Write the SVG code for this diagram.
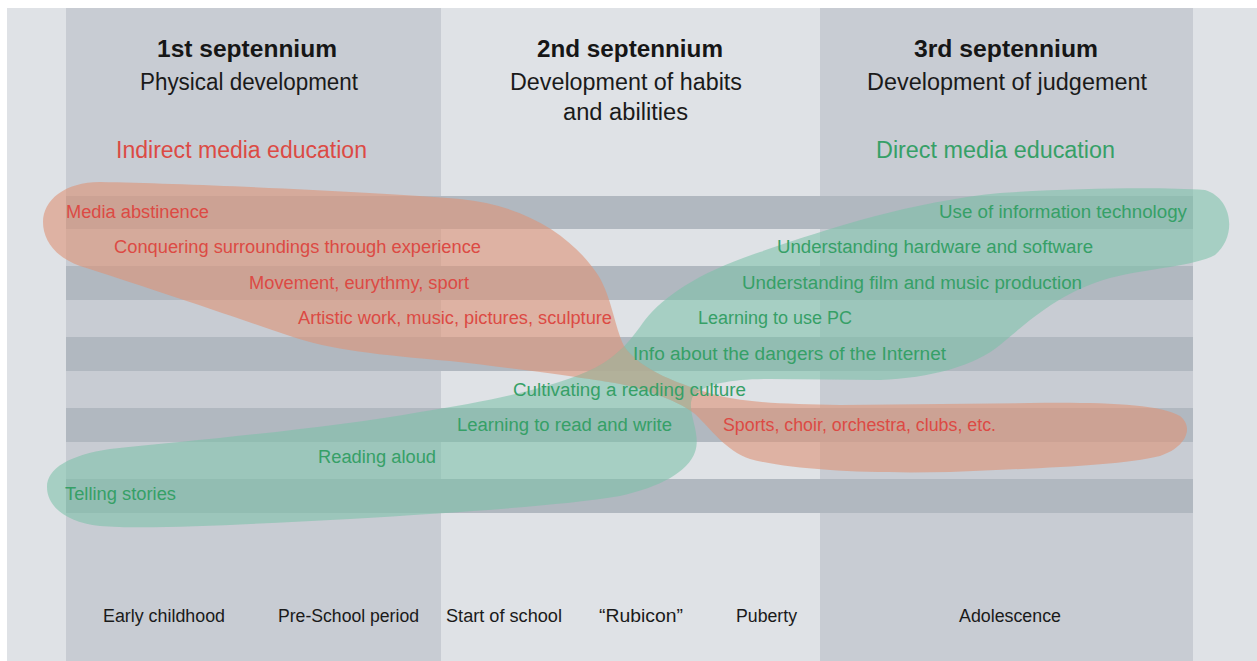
<svg xmlns="http://www.w3.org/2000/svg" width="1257" height="661" viewBox="0 0 1257 661">
  <style>
    .t { font-family: "Liberation Sans", Arial, sans-serif; }
    .head { font-size: 23.5px; font-weight: bold; fill: #161616; }
    .sub { font-size: 23px; fill: #1a1a1a; }
    .red { fill: #dc4a44; }
    .grn { fill: #36a067; }
    .row { font-size: 18.8px; }
    .age { font-size: 18.8px; fill: #1a1a1a; }
  </style>
  <defs>
    <path id="orangePath" d="M 43,222 C 43,200 65,182 100,182 C 200,184 380,192 460,199 C 530,206 575,240 598,275 C 612,298 614,325 624,346 C 640,370 680,385 720,396 C 750,403 790,404 840,405 L 1030,403 C 1100,402 1160,404 1180,416 C 1195,428 1185,448 1160,456 C 1120,466 1040,468 950,472 C 870,474 790,470 750,459 C 725,450 712,430 695,414 C 680,402 650,390 615,383 C 580,377 520,369 450,361 C 380,355 330,350 290,336 C 220,312 140,285 80,266 C 55,257 43,240 43,222 Z"/>
    <path id="greenPath" d="M 47,487 C 47,468 70,455 110,449 C 200,440 330,428 420,412 C 500,400 560,385 595,368 C 620,355 632,338 645,320 C 665,295 700,272 760,252 C 830,228 910,202 1000,193 C 1080,188 1160,187 1205,190 C 1232,198 1238,235 1215,255 C 1195,266 1150,268 1110,278 C 1060,292 1030,320 1000,345 C 975,366 930,378 880,380 L 770,379 C 735,379 705,383 693,396 C 685,410 702,432 695,452 C 688,472 660,487 620,496 C 560,506 460,512 350,519 C 250,524 150,530 100,526 C 65,522 47,506 47,487 Z"/>
    <clipPath id="orangeClip">
      <use href="#orangePath"/>
    </clipPath>
  </defs>

  <!-- page and column backgrounds -->
  <g id="background">
    <rect x="0" y="0" width="1257" height="661" fill="#ffffff"/>
    <rect x="7" y="8" width="1250" height="653" fill="#dfe2e6"/>
    <rect x="66" y="8" width="375" height="653" fill="#c8ccd3"/>
    <rect x="820" y="8" width="373" height="653" fill="#c8ccd3"/>
  </g>

  <!-- horizontal row bands -->
  <g id="bands" fill="#b1b8c0">
    <rect x="66" y="196" width="1127" height="33"/>
    <rect x="66" y="266" width="1127" height="34"/>
    <rect x="66" y="337" width="1127" height="34"/>
    <rect x="66" y="408" width="1127" height="34"/>
    <rect x="66" y="479" width="1127" height="34"/>
  </g>

  <!-- brush strokes: indirect (orange) and direct (green) media education -->
  <g id="strokes">
    <use id="indirect-stroke" href="#orangePath" fill="#de9276" fill-opacity="0.6"/>
    <use id="direct-stroke" href="#greenPath" fill="#7ac0a8" fill-opacity="0.56"/>
    <use href="#greenPath" clip-path="url(#orangeClip)" fill="#bfa88f" fill-opacity="0.5"/>
  </g>

  <!-- column headings -->
  <g id="col1" class="t">
    <text class="head" x="157" y="57" textLength="180" lengthAdjust="spacingAndGlyphs">1st septennium</text>
    <text class="sub" x="140" y="90" textLength="218" lengthAdjust="spacingAndGlyphs">Physical development</text>
    <text class="sub red" x="116" y="158" textLength="251" lengthAdjust="spacingAndGlyphs">Indirect media education</text>
  </g>
  <g id="col2" class="t">
    <text class="head" x="537" y="57" textLength="186" lengthAdjust="spacingAndGlyphs">2nd septennium</text>
    <text class="sub" x="510" y="90" textLength="232" lengthAdjust="spacingAndGlyphs">Development of habits</text>
    <text class="sub" x="563" y="120" textLength="125" lengthAdjust="spacingAndGlyphs">and abilities</text>
  </g>
  <g id="col3" class="t">
    <text class="head" x="914" y="57" textLength="184" lengthAdjust="spacingAndGlyphs">3rd septennium</text>
    <text class="sub" x="867" y="90" textLength="280" lengthAdjust="spacingAndGlyphs">Development of judgement</text>
    <text class="sub grn" x="876" y="158" textLength="239" lengthAdjust="spacingAndGlyphs">Direct media education</text>
  </g>

  <!-- indirect media education items -->
  <g id="indirect-items" class="t row red">
    <text x="66" y="218" textLength="143" lengthAdjust="spacingAndGlyphs">Media abstinence</text>
    <text x="114" y="253" textLength="367" lengthAdjust="spacingAndGlyphs">Conquering surroundings through experience</text>
    <text x="249" y="289" textLength="220" lengthAdjust="spacingAndGlyphs">Movement, eurythmy, sport</text>
    <text x="298" y="324" textLength="314" lengthAdjust="spacingAndGlyphs">Artistic work, music, pictures, sculpture</text>
    <text x="723" y="431" textLength="273" lengthAdjust="spacingAndGlyphs">Sports, choir, orchestra, clubs, etc.</text>
  </g>

  <!-- direct media education items -->
  <g id="direct-items" class="t row grn">
    <text x="939" y="218" textLength="248" lengthAdjust="spacingAndGlyphs">Use of information technology</text>
    <text x="777" y="253" textLength="316" lengthAdjust="spacingAndGlyphs">Understanding hardware and software</text>
    <text x="742" y="289" textLength="340" lengthAdjust="spacingAndGlyphs">Understanding film and music production</text>
    <text x="698" y="324" textLength="154" lengthAdjust="spacingAndGlyphs">Learning to use PC</text>
    <text x="633" y="360" textLength="313" lengthAdjust="spacingAndGlyphs">Info about the dangers of the Internet</text>
    <text x="513" y="396" textLength="233" lengthAdjust="spacingAndGlyphs">Cultivating a reading culture</text>
    <text x="457" y="431" textLength="215" lengthAdjust="spacingAndGlyphs">Learning to read and write</text>
    <text x="318" y="463" textLength="118" lengthAdjust="spacingAndGlyphs">Reading aloud</text>
    <text x="65" y="500" textLength="111" lengthAdjust="spacingAndGlyphs">Telling stories</text>
  </g>

  <!-- life phases along the bottom -->
  <g id="phases" class="t age">
    <text x="103" y="622" textLength="122" lengthAdjust="spacingAndGlyphs">Early childhood</text>
    <text x="278" y="622" textLength="141" lengthAdjust="spacingAndGlyphs">Pre-School period</text>
    <text x="446" y="622" textLength="116" lengthAdjust="spacingAndGlyphs">Start of school</text>
    <text x="599" y="622" textLength="84" lengthAdjust="spacingAndGlyphs">“Rubicon”</text>
    <text x="736" y="622" textLength="61" lengthAdjust="spacingAndGlyphs">Puberty</text>
    <text x="959" y="622" textLength="102" lengthAdjust="spacingAndGlyphs">Adolescence</text>
  </g>
</svg>
